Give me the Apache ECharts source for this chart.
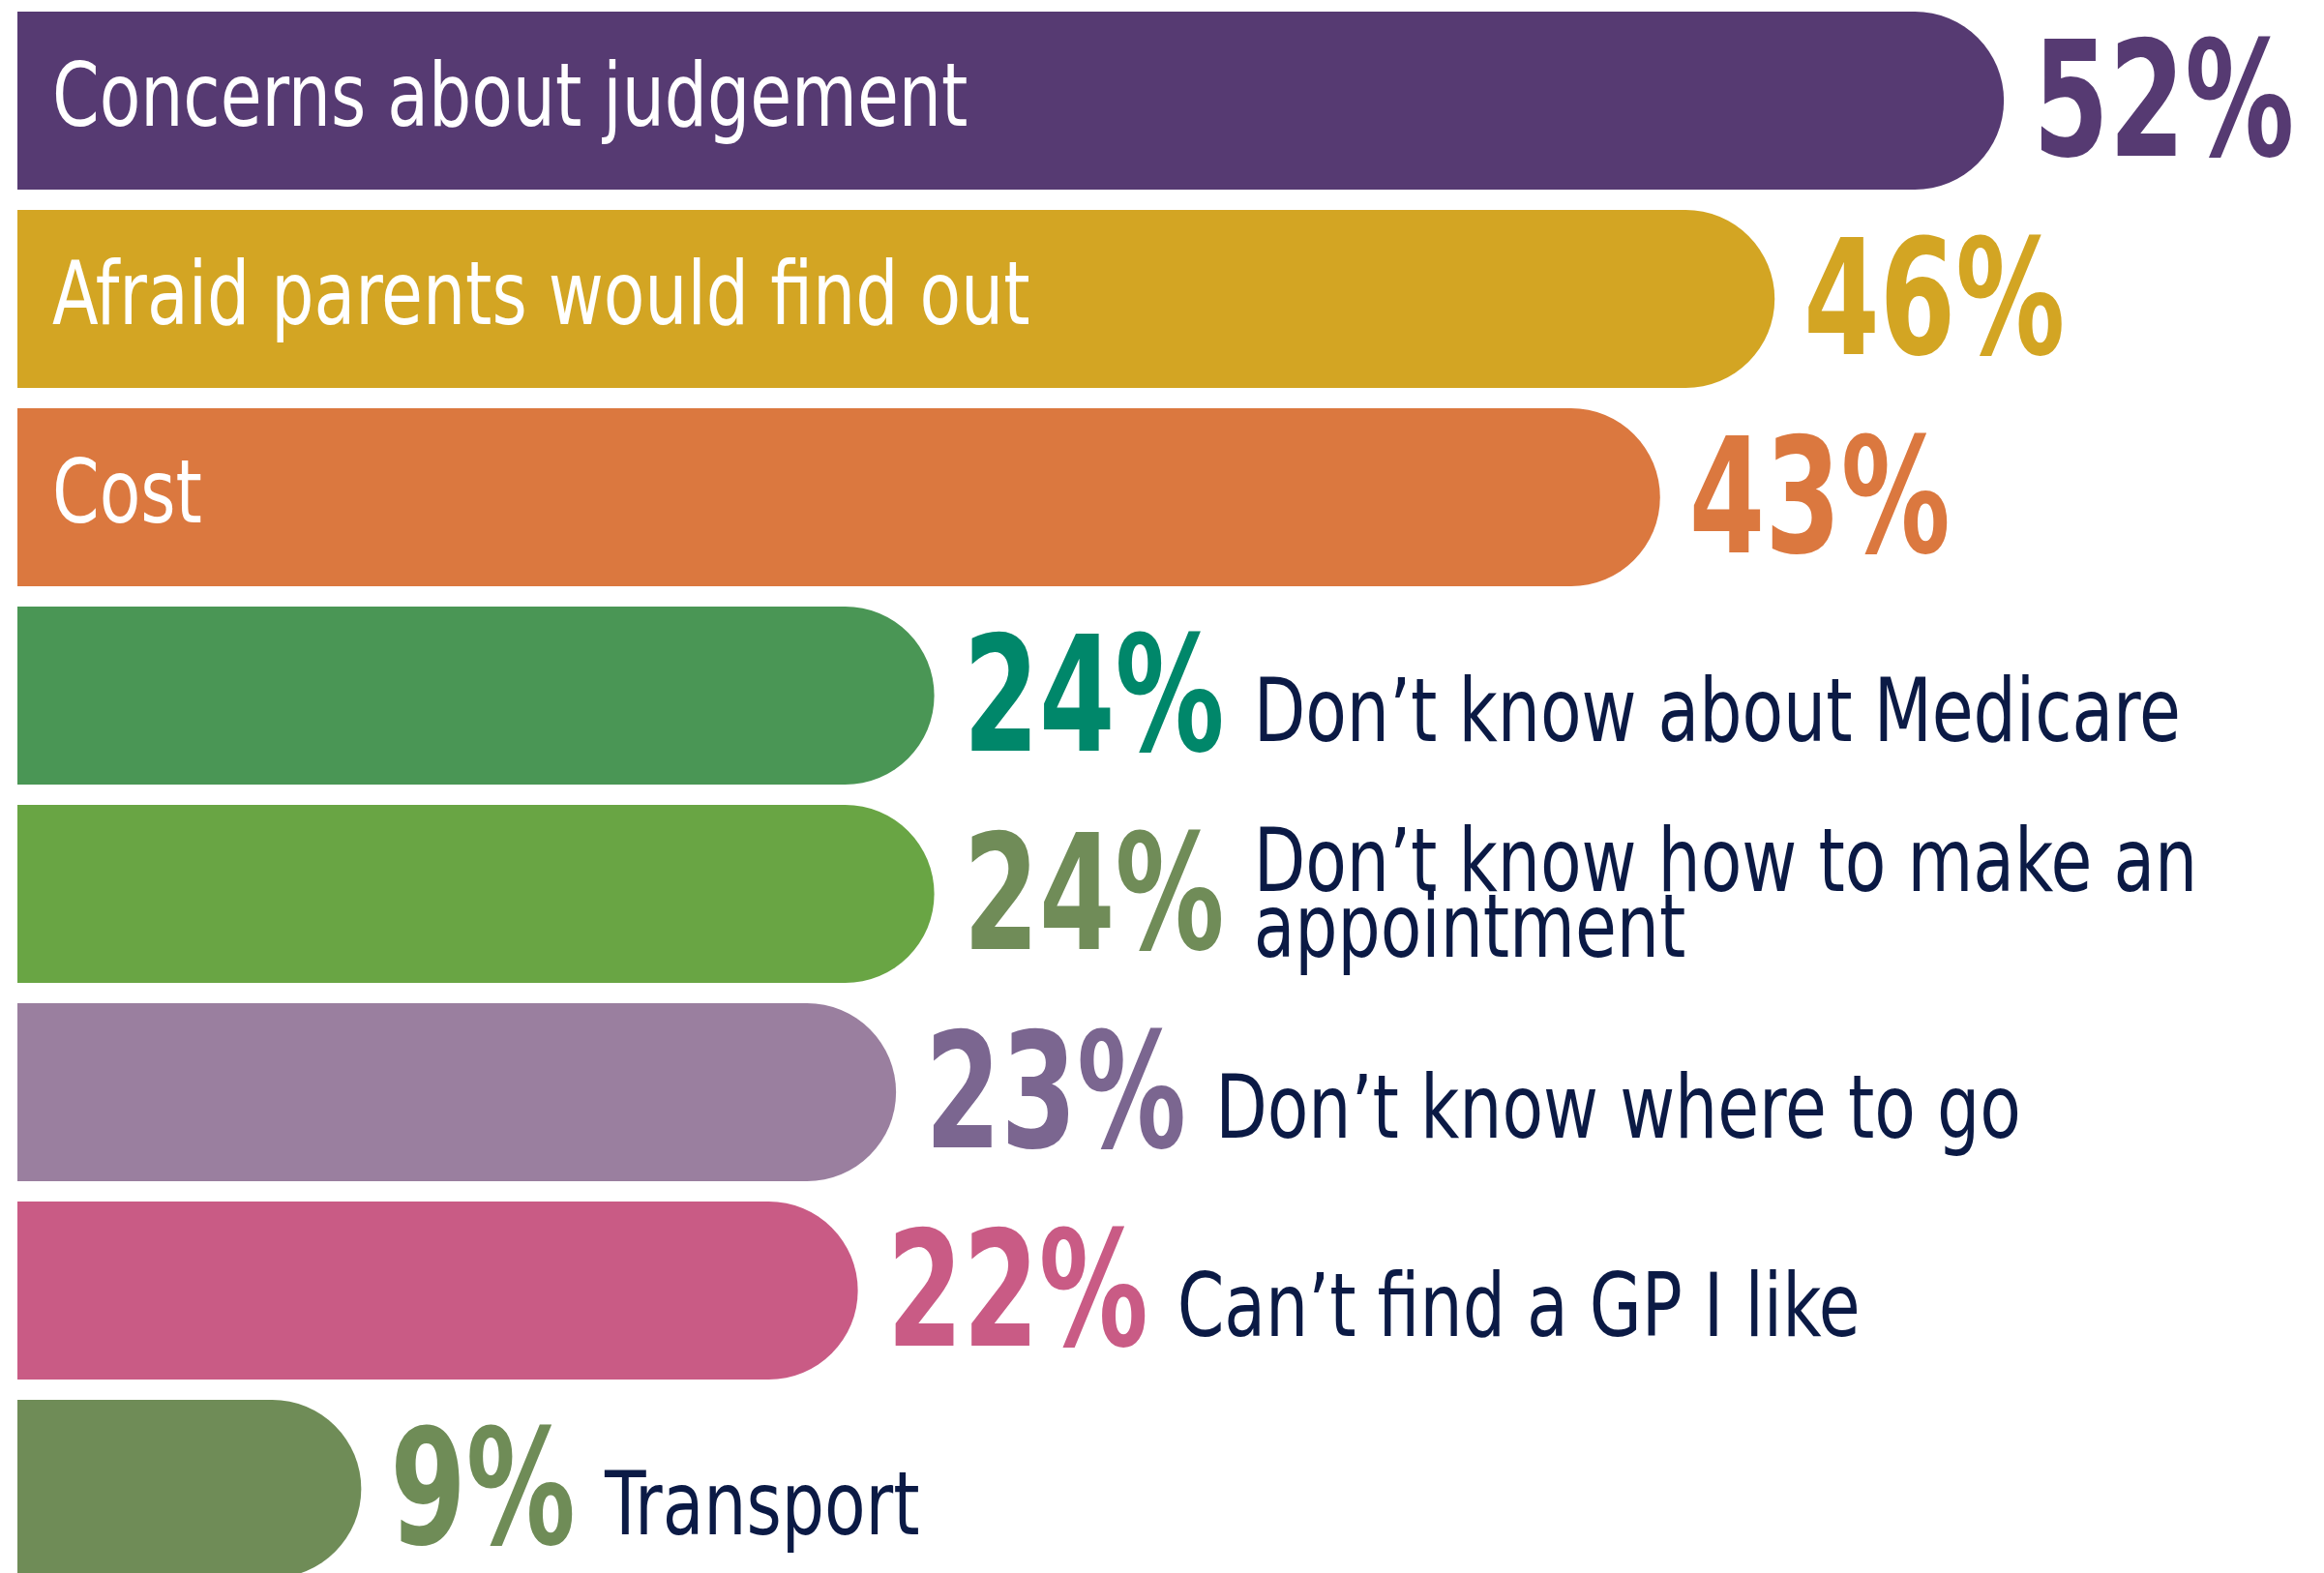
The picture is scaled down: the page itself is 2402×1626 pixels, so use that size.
<!DOCTYPE html>
<html><head><meta charset="utf-8">
<script src="https://cdn.jsdelivr.net/npm/echarts@6/dist/echarts.min.js"></script>
<style>html,body{margin:0;padding:0;background:#fff}#c{width:2402px;height:1626px}</style>
</head><body><div id="c"></div>
<script>
const categories = ["Concerns about judgement","Afraid parents would find out","Cost","Don’t know about Medicare","Don’t know how to make an\nappointment","Don’t know where to go","Can’t find a GP I like","Transport"];
const values = [52,46,43,24,24,23,22,9];
const barColors = ["#563A72","#D3A523","#DB783F","#4A9655","#69A544","#9A7F9F","#C95B85","#6F8C57"];
const valueColors = ["#563A72","#D3A523","#DB783F","#00876A","#708C58","#7B6690","#C95B85","#6F8C57"];

const FAM = '"DejaVu Sans Condensed","DejaVu Sans",sans-serif';
const PCT_FONT = 'bold 165px ' + FAM;
const TXT_FONT = '90px ' + FAM;
const PCT_SX = 0.76, TXT_SX = 0.86;
const ctx = document.createElement('canvas').getContext('2d');
const measure = (t, f) => { ctx.font = f; return ctx.measureText(t).width; };
const inside = i => values[i] >= 40;

const chart = echarts.init(document.getElementById('c'), null, {renderer:'canvas'});
chart.setOption({
  animation:false,
  backgroundColor:'#ffffff',
  grid:{left:18, top:1.5, width:2369, height:1640, containLabel:false, outerBoundsMode:'none'},
  xAxis:{type:'value', min:0, max:60, show:false},
  yAxis:{type:'category', data:categories, inverse:true, show:false},
  series:[{
    type:'bar', barWidth:184, silent:true,
    data: values.map((v,i)=>({value:v, itemStyle:{color:barColors[i], borderRadius:[0,92,92,0]}}))
  }]
});

const elements = [];
values.forEach((v,i)=>{
  const end = chart.convertToPixel({gridIndex:0}, [v, i]);
  const start = chart.convertToPixel({gridIndex:0}, [0, i]);
  const cy = end[1];
  const pctText = v + '%';
  const px = end[0] + 30;
  elements.push({type:'text', x:px, y:cy+14, scaleX:PCT_SX, silent:true, z:10,
    style:{text:pctText, font:PCT_FONT, fill:valueColors[i], align:'left', verticalAlign:'middle', textAlign:'left', textVerticalAlign:'middle'}});
  if (inside(i)) {
    elements.push({type:'text', x:start[0]+36, y:cy+3, scaleX:TXT_SX, silent:true, z:10,
      style:{text:categories[i], font:TXT_FONT, fill:'#ffffff', align:'left', verticalAlign:'middle', textAlign:'left', textVerticalAlign:'middle'}});
  } else {
    const tx = px + measure(pctText, PCT_FONT)*PCT_SX + 30;
    const multi = categories[i].indexOf('\n') >= 0;
    elements.push({type:'text', x:tx, y:cy + (multi ? 8 : 24), scaleX:TXT_SX, silent:true, z:10,
      style:{text:categories[i], font:TXT_FONT, lineHeight:68, fill:'#0B1A45', align:'left', verticalAlign:'middle', textAlign:'left', textVerticalAlign:'middle'}});
  }
});
chart.setOption({graphic:{elements}});
</script></body></html>
